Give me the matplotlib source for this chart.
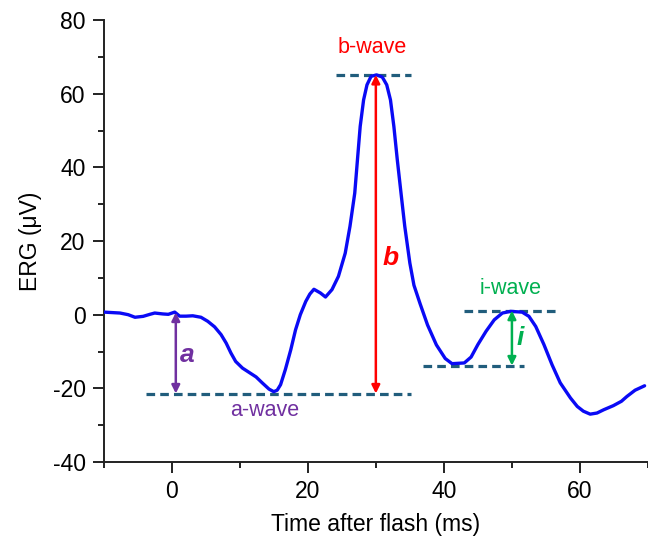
import matplotlib
matplotlib.use("Agg")
import matplotlib.pyplot as plt

plt.rcParams['font.family'] = ['Liberation Sans', 'DejaVu Sans']
plt.rcParams['axes.unicode_minus'] = False

# ERG trace (time ms, amplitude uV)
time_ms = [-10.0, -7.6, -6.4, -5.4, -4.2, -3.2, -2.5, -1.3, -0.5, 0.44, 1.17, 2.1,
           3.1, 4.3, 5.3, 6.3, 7.25, 8.0, 8.7, 9.4, 10.4, 11.4, 12.4, 13.3, 14.3,
           15.0, 15.5, 16.0, 16.7, 17.5, 18.2, 18.9, 19.7, 20.3, 20.9, 21.85,
           22.6, 23.55, 24.5, 25.5, 26.2, 26.9, 27.3, 27.7, 28.2, 28.7, 29.3, 30.1,
           30.95, 31.6, 32.15, 32.65, 33.15, 33.7, 34.25, 35.0, 35.6, 36.5, 37.6,
           38.9, 40.2, 41.2, 43.0, 44.0, 45.0, 46.2, 47.4, 48.6, 49.8, 51.5, 52.5,
           53.5, 54.7, 55.9, 57.1, 58.6, 59.6, 60.5, 61.5, 62.5, 63.5, 64.9, 66.1,
           66.9, 68.1, 69.5]
erg_uv = [0.7, 0.45, 0.0, -0.7, -0.45, 0.1, 0.45, 0.2, 0.1, 0.7, -0.4, -0.4,
          -0.3, -0.7, -1.8, -3.3, -5.4, -7.7, -10.4, -12.7, -14.5, -15.7, -16.9,
          -18.5, -20.2, -20.9, -20.5, -19.0, -14.9, -9.5, -4.1, 0.0, 3.6, 5.6,
          6.9, 5.9, 4.8, 6.8, 10.4, 16.7, 24.0, 33.0, 42.1, 51.1, 58.3, 62.4,
          64.7, 65.1, 64.5, 62.4, 58.3, 51.1, 42.1, 33.0, 24.0, 14.0, 8.0, 3.0,
          -2.8, -8.2, -11.9, -13.3, -13.1, -11.5, -8.1, -4.5, -1.4, 0.45, 0.9,
          0.7, -0.45, -3.2, -8.1, -13.6, -18.5, -22.6, -24.9, -26.2, -27.0,
          -26.7, -25.8, -24.7, -23.5, -22.2, -20.5, -19.3]

# annotation levels
a_level = -21.4
b_level = 65.1
i_top = 1.1
i_bottom = -13.8
baseline = 0.6

xticks = [0, 20, 40, 60]
yticks = [-40, -20, 0, 20, 40, 60, 80]

dash_color = '#215d7c'
purple = '#7030a0'
red = '#ff0000'
green = '#00b050'

fig = plt.figure(figsize=(6.48, 5.36), dpi=100)
ax = fig.add_axes([0.16, 0.138, 0.84, 0.8247])

ax.plot(time_ms, erg_uv, color='#0a0af5', lw=2.4, zorder=3,
        solid_joinstyle='round', solid_capstyle='round')

dash_kw = dict(color=dash_color, lw=2.3, ls=(0, (2.7, 1.6)), zorder=2)
ax.plot([-3.8, 35.2], [a_level, a_level], **dash_kw)
ax.plot([24.2, 35.2], [b_level, b_level], **dash_kw)
ax.plot([43.0, 56.6], [i_top, i_top], **dash_kw)
ax.plot([37.0, 51.8], [i_bottom, i_bottom], **dash_kw)

def darrow(x, y0, y1, c):
    ax.annotate('', xy=(x, y1), xytext=(x, y0),
                arrowprops=dict(arrowstyle='<|-|>', color=c, lw=1.8,
                                mutation_scale=12, shrinkA=0, shrinkB=0), zorder=4)

darrow(0.6, baseline, a_level, purple)
darrow(30.0, b_level, a_level, red)
darrow(50.0, i_top, i_bottom, green)

lab_kw = dict(fontsize=19, fontweight='bold', style='italic', ha='center', va='center')
ax.text(2.2, -11, 'a', color=purple, **lab_kw)
ax.text(32.1, 15.5, 'b', color=red, **lab_kw)
ax.text(51.2, -6.2, 'i', color=green, **lab_kw)

ax.text(13.6, -26.0, 'a-wave', color=purple, fontsize=15.5, ha='center', va='center')
ax.text(29.5, 72.5, 'b-wave', color=red, fontsize=15.5, ha='center', va='center')
ax.text(49.8, 7.0, 'i-wave', color=green, fontsize=15.5, ha='center', va='center')

ax.set_xlim(-10, 69.5)
ax.set_ylim(-40, 80)
ax.set_xticks(xticks)
ax.set_yticks(yticks)
ax.set_xticks([-10, 10, 30, 50, 70], minor=True)
ax.set_yticks([-30, -10, 10, 30, 50, 70], minor=True)

for s in ['top', 'right']:
    ax.spines[s].set_visible(False)
for s in ['left', 'bottom']:
    ax.spines[s].set_linewidth(1.4)
    ax.spines[s].set_color('#222222')

ax.tick_params(which='major', direction='out', length=8, width=1.4, labelsize=16.5, pad=5,
               colors='#222222', labelcolor='black')
ax.tick_params(which='minor', direction='out', length=4.5, width=1.4, colors='#222222')

ax.set_xlabel('Time after flash (ms)', fontsize=16.5, labelpad=7)
ax.set_ylabel('ERG (\u03bcV)', fontsize=16.5, labelpad=8)

fig.savefig('out.png', dpi=100)
